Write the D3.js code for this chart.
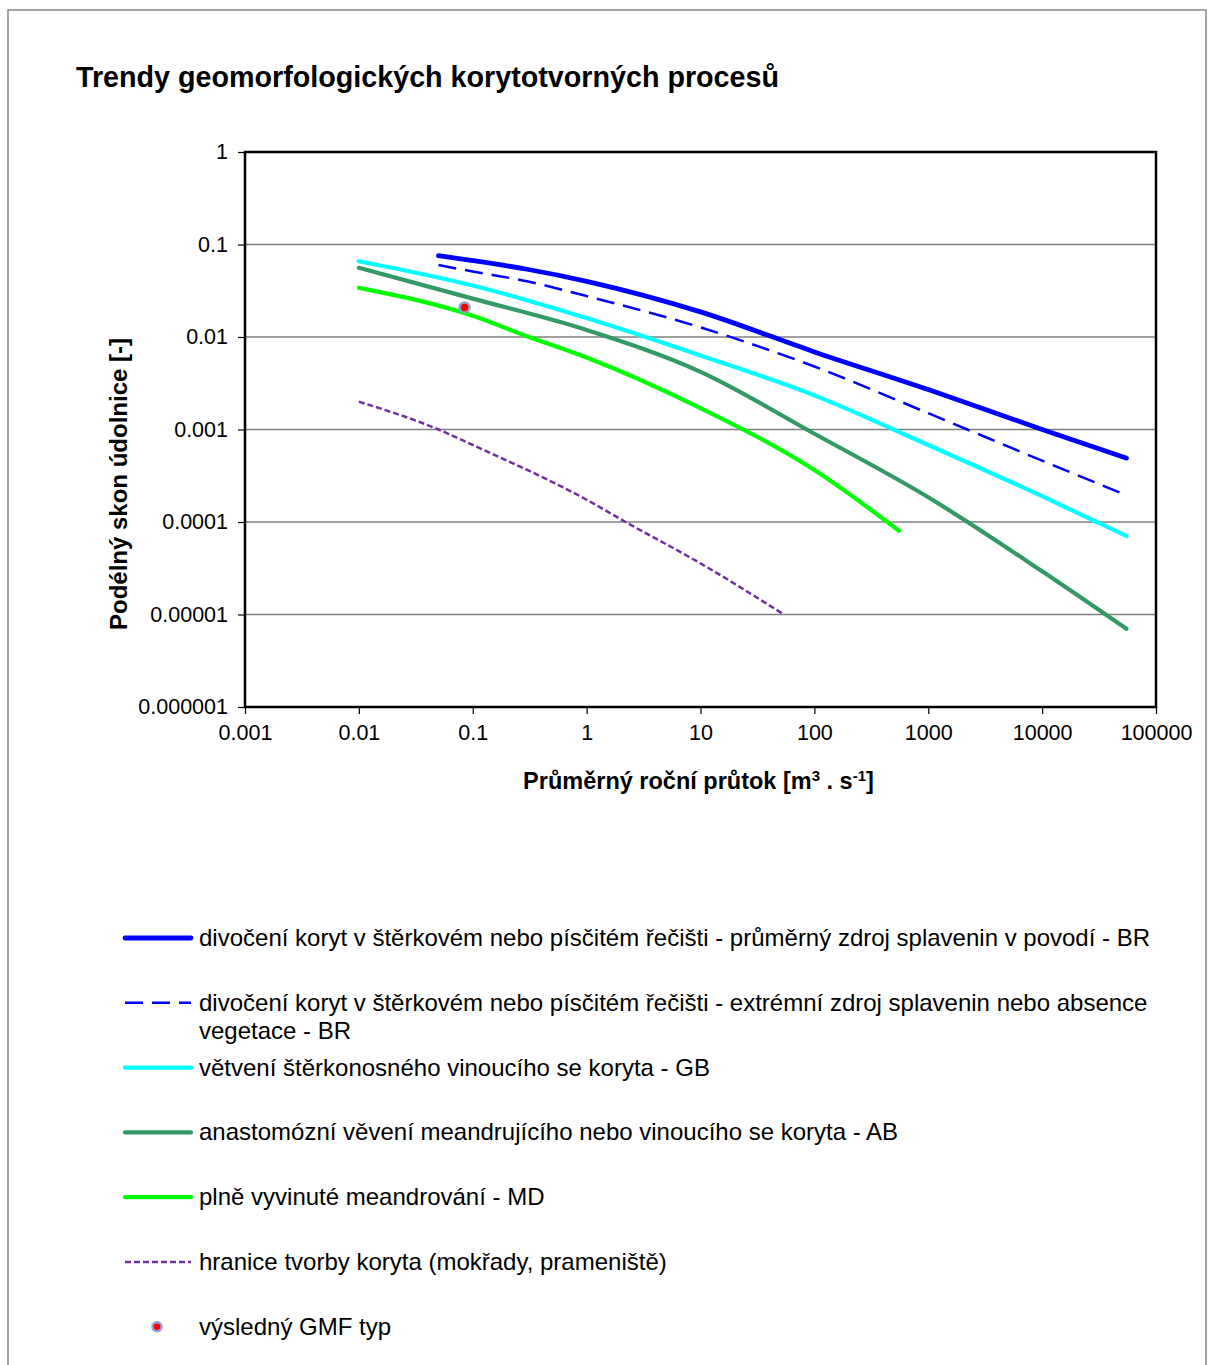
<!DOCTYPE html>
<html>
<head>
<meta charset="utf-8">
<script src="https://cdn.jsdelivr.net/npm/d3@7"></script>
<style>
body { margin: 0; background: #fff; }
svg { display: block; }
text { font-family: Arial, "Liberation Sans", sans-serif; fill: #000; }
</style>
</head>
<body>
<svg id="chart" width="1209" height="1365"></svg>
<script>

// tick values and labels
const xTicks = [0.001, 0.01, 0.1, 1, 10, 100, 1000, 10000, 100000];
const xTickLabels = ["0.001", "0.01", "0.1", "1", "10", "100", "1000", "10000", "100000"];
const yTicks = [1, 0.1, 0.01, 0.001, 0.0001, 0.00001, 0.000001];
const yTickLabels = ["1", "0.1", "0.01", "0.001", "0.0001", "0.00001", "0.000001"];

// series (x = discharge, y = valley slope)
const brX = [0.05, 0.1, 0.3, 1, 10, 100, 1000, 10000, 55000];
const brY = [0.0757, 0.067, 0.054, 0.040, 0.0187, 0.0069, 0.0027, 0.001, 0.00049];

const brExtX = [0.05, 0.1, 0.3, 1, 10, 100, 1000, 10000, 52000];
const brExtY = [0.060, 0.051, 0.040, 0.0277, 0.0127, 0.0048, 0.0015, 0.00046, 0.0002];

const gbX = [0.01, 0.1, 0.3, 1, 10, 100, 1000, 10000, 55000];
const gbY = [0.066, 0.036, 0.025, 0.016, 0.0063, 0.00234, 0.00068, 0.00019, 0.0000706];

const abX = [0.01, 0.1, 1, 10, 100, 1000, 10000, 55000];
const abY = [0.056, 0.026, 0.0119, 0.0042, 0.0009, 0.000185, 0.0000293, 0.000007];

const mdX = [0.01, 0.1, 0.3, 1, 10, 100, 553];
const mdY = [0.034, 0.017, 0.0102, 0.006, 0.0017, 0.000365, 0.0000805];

const limitX = [0.01, 0.05, 0.1, 1, 2.2, 10, 54];
const limitY = [0.002, 0.001, 0.00068, 0.000174, 0.0001, 0.0000357, 0.00001];

const resultX = [0.0847];
const resultY = [0.0209];

const legendLabels = [
	["divočení koryt v štěrkovém nebo písčitém řečišti - průměrný zdroj splavenin v povodí - BR"],
	["divočení koryt v štěrkovém nebo písčitém řečišti - extrémní zdroj splavenin nebo absence", "vegetace - BR"],
	["větvení štěrkonosného vinoucího se koryta - GB"],
	["anastomózní věvení meandrujícího nebo vinoucího se koryta - AB"],
	["plně vyvinuté meandrování - MD"],
	["hranice tvorby koryta (mokřady, prameniště)"],
	["výsledný GMF typ"]
];

const series = [
	{xs: brX, ys: brY, color: "#0000ff", width: 4.8, dash: null},
	{xs: brExtX, ys: brExtY, color: "#0000ff", width: 2.5, dash: "18,9"},
	{xs: gbX, ys: gbY, color: "#00ffff", width: 4.2, dash: null},
	{xs: abX, ys: abY, color: "#339966", width: 4.2, dash: null},
	{xs: mdX, ys: mdY, color: "#00ff00", width: 4.2, dash: null},
	{xs: limitX, ys: limitY, color: "#7030a0", width: 2.5, dash: "6,3"}
];

const svg = d3.select("#chart");

const plot = {left: 245, right: 1156, top: 152, bottom: 707};

const x = d3.scaleLog().domain([0.001, 100000]).range([plot.left, plot.right]);
const y = d3.scaleLog().domain([0.000001, 1]).range([plot.bottom, plot.top]);

// outer chart border
svg.append("rect")
	.attr("x", 8).attr("y", 10)
	.attr("width", 1198).attr("height", 1400)
	.attr("fill", "none")
	.attr("stroke", "#868686")
	.attr("stroke-width", 1.5);

// title
svg.append("text")
	.attr("x", 76).attr("y", 87)
	.style("font-size", "28.7px")
	.style("font-weight", "bold")
	.text("Trendy geomorfologických korytotvorných procesů");

// horizontal gridlines
svg.append("g")
	.selectAll("line")
	.data(yTicks.slice(1, -1))
	.enter().append("line")
		.attr("x1", plot.left).attr("x2", plot.right)
		.attr("y1", d => y(d)).attr("y2", d => y(d))
		.attr("stroke", "#808080")
		.attr("stroke-width", 1.5);

// axes
const yAxis = d3.axisLeft(y)
	.tickValues(yTicks)
	.tickFormat((d, i) => yTickLabels[i])
	.tickSize(7)
	.tickPadding(10);

const xAxis = d3.axisBottom(x)
	.tickValues(xTicks)
	.tickFormat((d, i) => xTickLabels[i])
	.tickSize(7)
	.tickPadding(11);

const yg = svg.append("g")
	.attr("transform", "translate(" + plot.left + ",0)")
	.call(yAxis);

const xg = svg.append("g")
	.attr("transform", "translate(0," + plot.bottom + ")")
	.call(xAxis);

[yg, xg].forEach(g => {
	g.select(".domain").remove();
	g.selectAll("line").attr("stroke", "#000").attr("stroke-width", 1.2);
	g.selectAll("text")
		.style("font-family", 'Arial, "Liberation Sans", sans-serif')
		.style("font-size", "21.5px")
		.attr("fill", "#000");
});

// plot frame
svg.append("rect")
	.attr("x", plot.left).attr("y", plot.top)
	.attr("width", plot.right - plot.left)
	.attr("height", plot.bottom - plot.top)
	.attr("fill", "none")
	.attr("stroke", "#000")
	.attr("stroke-width", 2.5);

// axis titles
const xTitle = svg.append("text")
	.attr("x", (plot.left + plot.right) / 2 - 2)
	.attr("y", 789)
	.attr("text-anchor", "middle")
	.style("font-size", "23.5px")
	.style("font-weight", "bold");
xTitle.append("tspan").text("Průměrný roční průtok [m");
xTitle.append("tspan").attr("dy", -8).style("font-size", "15px").text("3");
xTitle.append("tspan").attr("dy", 8).text(" . s");
xTitle.append("tspan").attr("dy", -8).style("font-size", "15px").text("-1");
xTitle.append("tspan").attr("dy", 8).text("]");

svg.append("text")
	.attr("transform", "translate(127,484) rotate(-90)")
	.attr("text-anchor", "middle")
	.style("font-size", "24px")
	.style("font-weight", "bold")
	.text("Podélný skon údolnice [-]");

// curves
const line = d3.line()
	.x(d => x(d[0]))
	.y(d => y(d[1]))
	.curve(d3.curveMonotoneX);

svg.append("g")
	.selectAll("path")
	.data(series)
	.enter().append("path")
		.attr("d", s => line(d3.zip(s.xs, s.ys)))
		.attr("fill", "none")
		.attr("stroke", s => s.color)
		.attr("stroke-width", s => s.width)
		.attr("stroke-linecap", s => s.dash ? "butt" : "round")
		.attr("stroke-dasharray", s => s.dash);

// resulting GMF type
svg.append("g")
	.selectAll("circle")
	.data(d3.zip(resultX, resultY))
	.enter().append("circle")
		.attr("cx", d => x(d[0]))
		.attr("cy", d => y(d[1]))
		.attr("r", 5)
		.attr("fill", "#ff0000")
		.attr("stroke", "#8ea5cf")
		.attr("stroke-width", 2.5);

// legend
const legendTop = 938, legendStep = 64.8;
const legend = svg.append("g");

legendLabels.forEach((lines, i) => {
	const ly = legendTop + i * legendStep;
	if (i < series.length) {
		const s = series[i];
		legend.append("line")
			.attr("x1", 125).attr("x2", 191)
			.attr("y1", ly).attr("y2", ly)
			.attr("stroke", s.color)
			.attr("stroke-width", s.width)
			.attr("stroke-linecap", s.dash ? "butt" : "round")
			.attr("stroke-dasharray", s.dash);
	} else {
		legend.append("circle")
			.attr("cx", 157).attr("cy", ly)
			.attr("r", 4.5)
			.attr("fill", "#ff0000")
			.attr("stroke", "#8ea5cf")
			.attr("stroke-width", 2.5);
	}
	const t = legend.append("text")
		.attr("x", 199).attr("y", ly + 8)
		.style("font-size", "24px");
	lines.forEach((l, j) => {
		t.append("tspan").attr("x", 199).attr("dy", j === 0 ? 0 : 28).text(l);
	});
});

</script>
</body>
</html>
